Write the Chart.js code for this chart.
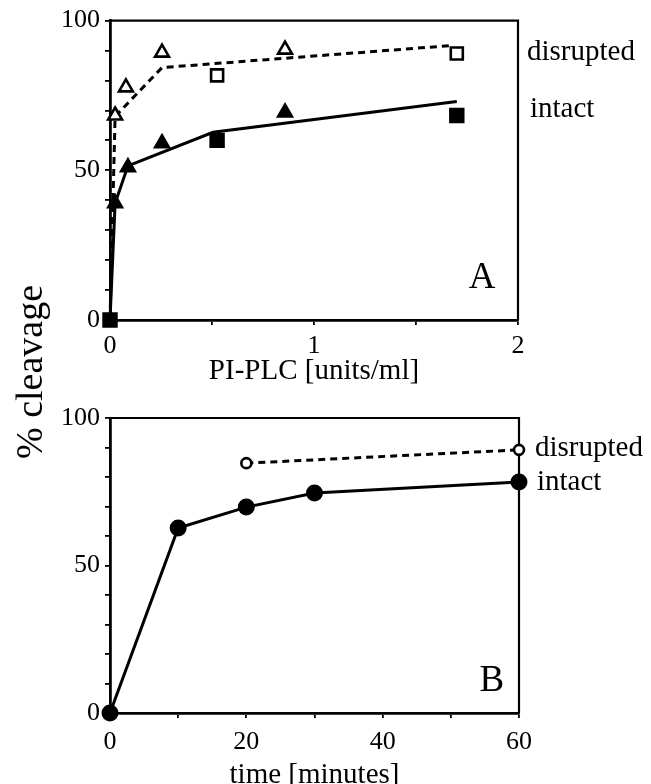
<!DOCTYPE html>
<html>
<head>
<meta charset="utf-8">
<title>% cleavage</title>
<script src="https://cdn.jsdelivr.net/npm/chart.js@4.4.1/dist/chart.umd.min.js"></script>
<style>
html, body { margin: 0; padding: 0; background: #fff; overflow: hidden; }
#wrap { position: relative; width: 651px; height: 784px; overflow: hidden; }
#chartA { position: absolute; left: 0; top: 0; }
#chartB { position: absolute; left: 0; top: 392px; }
#ytitle {
	position: absolute; left: 29px; top: 372px;
	transform: translate(-50%, -50%) rotate(-90deg);
	font: 38px "Liberation Serif", serif; color: #000; white-space: nowrap;
}
</style>
</head>
<body>
<div id="wrap">
	<canvas id="chartA" width="651" height="392"></canvas>
	<canvas id="chartB" width="651" height="398"></canvas>
	<div id="ytitle">% cleavage</div>
</div>
<script>
// panel A : PI-PLC dose (units/ml)
var aOpenTriX = [0.025, 0.078, 0.255, 0.858];
var aOpenTriY = [68.3, 77.7, 89.3, 90.3];
var aOpenSqX = [0.525, 1.70];
var aOpenSqY = [81.7, 89];
var aFillTriX = [0.025, 0.088, 0.255, 0.858];
var aFillTriY = [39, 51, 59, 69.3];
var aFillSqX = [0, 0.525, 1.70];
var aFillSqY = [0, 60, 68.3];
var aDisruptedLineX = [0, 0.025, 0.255, 1.68];
var aDisruptedLineY = [0, 68, 84.3, 91.7];
var aIntactLineX = [0, 0.025, 0.088, 0.505, 1.70];
var aIntactLineY = [0, 39, 51.5, 62.7, 73];

// panel B : time course (minutes)
var bIntactX = [0, 10, 20, 30, 60];
var bIntactY = [0, 62.7, 69.8, 74.6, 78.3];
var bDisruptedX = [20, 60];
var bDisruptedY = [84.7, 89.2];

var pctTicks = [0, 50, 100];
var doseTicks = [0, 1, 2];
var timeTicks = [0, 20, 40, 60];

var pts = function (xs, ys) {
	return xs.map(function (x, i) { return {x: x, y: ys[i]}; });
};

// text drawn next to the panels, placed through the scales
var notes = {
	chartA: [
		{text: 'disrupted', x: 2, y: 89.3, dx: 9, align: 'left', size: 29},
		{text: 'intact', x: 2, y: 70.3, dx: 12, align: 'left', size: 29},
		{text: 'A', x: 1.824, y: 14, dx: 0, align: 'center', size: 37}
	],
	chartB: [
		{text: 'disrupted', x: 60, y: 89.8, dx: 16, align: 'left', size: 29},
		{text: 'intact', x: 60, y: 78.3, dx: 18, align: 'left', size: 29},
		{text: 'B', x: 56, y: 10.8, dx: 0, align: 'center', size: 37}
	]
};

var serif = '"Liberation Serif", "Times New Roman", serif';
Chart.defaults.font.family = serif;
Chart.defaults.color = '#000';

var framePlugin = {
	id: 'frameNotes',
	beforeDatasetsDraw: function (chart) {
		var a = chart.chartArea, ctx = chart.ctx;
		ctx.save();
		ctx.strokeStyle = '#000';
		ctx.lineWidth = 2.2;
		ctx.beginPath();
		ctx.moveTo(a.left, a.top);
		ctx.lineTo(a.right, a.top);
		ctx.lineTo(a.right, a.bottom);
		ctx.stroke();
		ctx.restore();
	},
	afterDraw: function (chart) {
		var list = notes[chart.canvas.id] || [];
		var ctx = chart.ctx, xs = chart.scales.x, ys = chart.scales.y;
		ctx.save();
		ctx.fillStyle = '#000';
		ctx.textBaseline = 'middle';
		list.forEach(function (n) {
			ctx.font = n.size + 'px ' + serif;
			ctx.textAlign = n.align;
			ctx.fillText(n.text, xs.getPixelForValue(n.x) + n.dx, ys.getPixelForValue(n.y));
		});
		ctx.restore();
	}
};

var markers = function (data, style, radius, filled) {
	return {
		data: data, showLine: false, clip: false,
		pointStyle: style, pointRadius: radius, pointHoverRadius: radius,
		pointBorderWidth: filled ? 2 : 2.6, pointBorderColor: '#000',
		pointBackgroundColor: filled ? '#000' : '#fff'
	};
};
var line = function (data, dashed) {
	return {
		data: data, showLine: true, clip: false, pointRadius: 0,
		borderColor: '#000', borderWidth: 3,
		borderDash: dashed ? [7, 5] : [], tension: 0
	};
};

var makeScales = function (xMax, xStep, xLabels, xTitle, xHeight, tickPad, titlePad) {
	return {
		x: {
			type: 'linear', min: 0, max: xMax,
			afterFit: function (s) { s.height = xHeight; },
			border: {display: true, color: '#000', width: 2.8},
			grid: {drawOnChartArea: false, color: '#000', lineWidth: 1.8, tickLength: 5},
			ticks: {
				stepSize: xStep, autoSkip: false, maxRotation: 0, padding: tickPad,
				font: {size: 26}, color: '#000',
				callback: function (v) { return xLabels.indexOf(Math.round(v * 100) / 100) >= 0 ? String(v) : ''; }
			},
			title: {display: true, text: xTitle, color: '#000', font: {size: 29, lineHeight: 1}, padding: {top: 0, bottom: titlePad}}
		},
		y: {
			type: 'linear', min: 0, max: 100,
			afterFit: function (s) { s.width = 110; },
			border: {display: true, color: '#000', width: 2.8},
			grid: {drawOnChartArea: false, color: '#000', lineWidth: 1.8, tickLength: 5},
			ticks: {
				stepSize: 10, autoSkip: false, padding: 5,
				font: {size: 26}, color: '#000',
				callback: function (v) { return pctTicks.indexOf(v) >= 0 ? String(v) : ''; }
			}
		}
	};
};

var baseOptions = function (padding, scales) {
	return {
		responsive: false, animation: false, devicePixelRatio: 1, events: [],
		layout: {padding: padding},
		plugins: {legend: {display: false}, tooltip: {enabled: false}},
		scales: scales
	};
};

new Chart(document.getElementById('chartA'), {
	type: 'scatter',
	data: {
		datasets: [
			markers(pts(aOpenTriX, aOpenTriY), 'triangle', 8, false),
			markers(pts(aOpenSqX, aOpenSqY), 'rect', 8.5, false),
			markers(pts(aFillTriX, aFillTriY), 'triangle', 8.5, true),
			markers(pts(aFillSqX, aFillSqY), 'rect', 9.5, true),
			line(pts(aDisruptedLineX, aDisruptedLineY), true),
			line(pts(aIntactLineX, aIntactLineY), false)
		]
	},
	options: baseOptions({top: 20, right: 133, bottom: 0, left: 0},
		makeScales(2, 0.5, doseTicks, 'PI-PLC [units/ml]', 72, 6, 6)),
	plugins: [framePlugin]
});

new Chart(document.getElementById('chartB'), {
	type: 'scatter',
	data: {
		datasets: [
			markers(pts(bDisruptedX, bDisruptedY), 'circle', 5, false),
			markers(pts(bIntactX, bIntactY), 'circle', 7.5, true),
			line(pts(bDisruptedX, bDisruptedY), true),
			line(pts(bIntactX, bIntactY), false)
		]
	},
	options: baseOptions({top: 26, right: 132, bottom: 0, left: 0},
		makeScales(60, 10, timeTicks, 'time [minutes]', 77, 9, 0)),
	plugins: [framePlugin]
});
</script>
</body>
</html>
